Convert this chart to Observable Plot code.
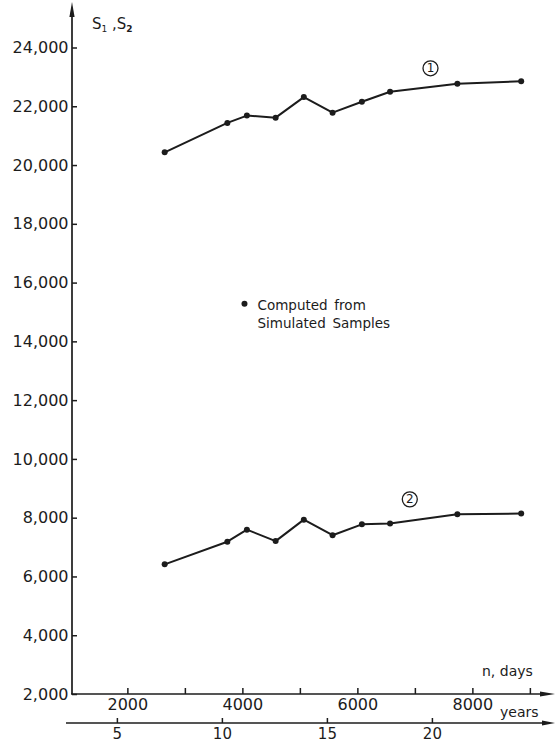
<!DOCTYPE html>
<html>
<head>
<meta charset="utf-8">
<script src="https://cdn.jsdelivr.net/npm/d3@7"></script>
<script src="https://cdn.jsdelivr.net/npm/@observablehq/plot@0.6"></script>
<style>
  html, body { margin: 0; padding: 0; background: #fff; }
  #chart svg { display: block; }
</style>
</head>
<body>
<div id="chart"></div>
<script>
// Sample length n (days) at which S1 and S2 were computed from simulated samples
const nDays = [2640, 3730, 4070, 4570, 5060, 5560, 6070, 6560, 7730, 8840];
const s1 = [20450, 21450, 21700, 21630, 22330, 21800, 22170, 22510, 22780, 22870];
const s2 = [6430, 7200, 7610, 7220, 7950, 7420, 7790, 7820, 8130, 8160];

// Axis ticks
const yTicks = d3.range(2000, 24001, 2000);
const dayTicks = d3.range(2000, 9001, 1000);
const dayLabels = [2000, 4000, 6000, 8000];
const yearTicks = [5, 10, 15, 20];
const daysPerYear = 365.25;

// Curve numbers and the legend entry
const curveLabels = [
  {n: 7263, s: 23310, label: "1"},
  {n: 6903, s: 8640, label: "2"}
];
const legendAt = [{n: 4028, s: 15300}];
const legendText = "Computed\u2002from\nSimulated\u2002Samples";

const rows = nDays.flatMap((n, i) => [
  {n, s: s1[i], curve: "1"},
  {n, s: s2[i], curve: "2"}
]);

const ink = "#1c1c1c";
const font = "'DejaVu Sans', sans-serif";

const chart = Plot.plot({
  width: 555,
  height: 743,
  marginLeft: 72,
  marginRight: 0,
  marginTop: 47.5,
  marginBottom: 49,
  style: {fontFamily: font, fontSize: "16px", color: ink, background: "#fff"},
  x: {domain: [1037, 9437], label: null},
  y: {domain: [2000, 24000], label: null},
  marks: [
    Plot.axisY(yTicks, {
      anchor: "left", tickSize: -5, tickPadding: 9, strokeWidth: 1.5,
      tickFormat: d => d3.format(",")(d), fontSize: 16, fill: ink, stroke: ink
    }),
    Plot.axisX(dayTicks, {
      anchor: "bottom", tickSize: -6, tickPadding: 10.6, strokeWidth: 1.5,
      tickFormat: d => dayLabels.includes(d) ? String(d) : "", fontSize: 16, fill: ink, stroke: ink
    }),
    Plot.line(rows, {x: "n", y: "s", z: "curve", stroke: ink, strokeWidth: 2}),
    Plot.dot(rows, {x: "n", y: "s", r: 3, fill: ink}),
    Plot.dot(curveLabels, {x: "n", y: "s", r: 7.5, stroke: ink, strokeWidth: 1.3, fill: "#fff"}),
    Plot.text(curveLabels, {x: "n", y: "s", text: "label", fontSize: 12, fill: ink}),
    Plot.dot(legendAt, {x: "n", y: "s", r: 3, fill: ink}),
    Plot.text(legendAt, {
      x: "n", y: "s", text: () => legendText, textAnchor: "start", lineAnchor: "top",
      dx: 13, dy: -7, lineHeight: 1.37, fontSize: 13.5, fill: ink
    })
  ]
});

// Axis lines with arrowheads, the secondary years scale, and the axis titles
const svg = d3.select(chart);
const X = chart.scale("x"), Y = chart.scale("y");
const xa = X.apply(X.domain[0]);
const ya = Y.apply(Y.domain[0]);
const right = 555;
const g = svg.append("g").attr("stroke", ink).attr("fill", ink);

g.append("line").attr("x1", xa).attr("x2", xa).attr("y1", ya).attr("y2", 8).attr("stroke-width", 1.7);
g.append("path").attr("stroke", "none").attr("d", `M${xa},2L${xa - 2.6},17L${xa + 2.6},17Z`);

g.append("line").attr("x1", xa - 1).attr("x2", right - 8).attr("y1", ya).attr("y2", ya).attr("stroke-width", 1.7);
g.append("path").attr("stroke", "none").attr("d", `M${right},${ya}L${right - 15},${ya - 2.6}L${right - 15},${ya + 2.6}Z`);

// years scale drawn from the same day scale
const yy = ya + 29;
g.append("line").attr("x1", 66).attr("x2", right - 8).attr("y1", yy).attr("y2", yy).attr("stroke-width", 1.3);
g.append("path").attr("stroke", "none").attr("d", `M${right},${yy}L${right - 13},${yy - 2.4}L${right - 13},${yy + 2.4}Z`);
for (const t of yearTicks) {
  const px = X.apply(t * daysPerYear);
  g.append("line").attr("x1", px).attr("x2", px).attr("y1", yy - 5).attr("y2", yy).attr("stroke-width", 1.5);
  g.append("text").attr("x", px).attr("y", yy + 16).attr("stroke", "none")
    .attr("text-anchor", "middle").attr("font-family", font).attr("font-size", 15).text(t);
}

const labels = svg.append("g").attr("fill", ink).attr("font-family", font).attr("text-anchor", "start");
labels.append("text").attr("x", 482).attr("y", 676).attr("font-size", 14).text("n, days");
labels.append("text").attr("x", 500).attr("y", 717).attr("font-size", 14).text("years");

const title = labels.append("text").attr("x", 92).attr("y", 29).attr("font-size", 15);
title.append("tspan").text("S");
title.append("tspan").attr("font-size", 9).attr("dy", 3).text("1");
title.append("tspan").attr("dy", -3).text(" ,S");
title.append("tspan").attr("font-size", 9).attr("dy", 3).attr("font-weight", "bold").text("2");

document.getElementById("chart").append(chart);
</script>
</body>
</html>
